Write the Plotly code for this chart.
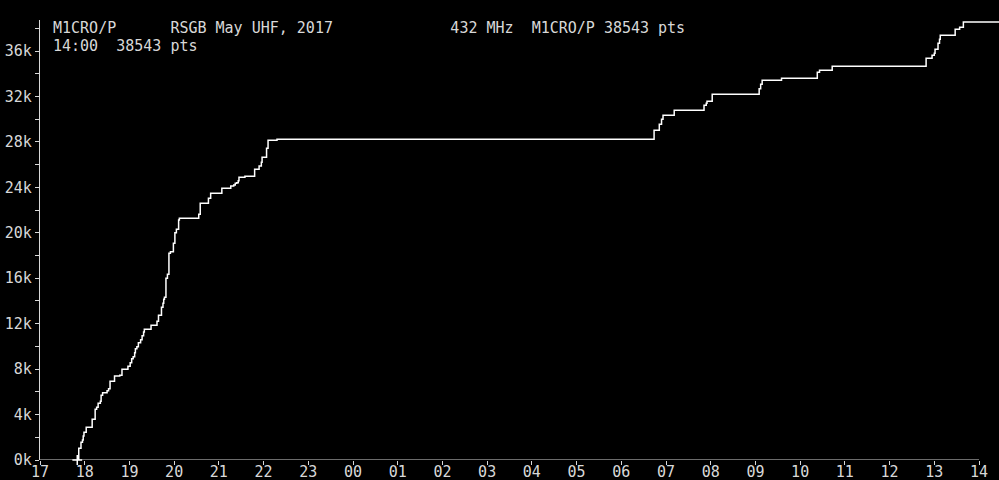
import plotly.graph_objects as go
from datetime import datetime, timedelta

# Cumulative score log (time of each step, score after the step)
times = ["17:50", "17:52", "17:55", "17:57", "17:58", "17:59", "18:02", "18:10", "18:14", "18:16",
         "18:18", "18:21", "18:22", "18:24", "18:30", "18:32", "18:34", "18:40", "18:47", "18:50",
         "18:58", "19:01", "19:03", "19:05", "19:07", "19:08", "19:10", "19:12", "19:15", "19:17",
         "19:19", "19:20", "19:29", "19:37", "19:39", "19:43", "19:45", "19:46", "19:47", "19:49",
         "19:51", "19:53", "19:55", "19:59", "20:01", "20:03", "20:06", "20:07", "20:33", "20:35",
         "20:46", "20:49", "21:04", "21:16", "21:20", "21:22", "21:24", "21:26", "21:27", "21:35",
         "21:48", "21:54", "21:57", "21:58", "22:04", "22:06", "22:18",
         "06:44", "06:51", "06:54", "06:56", "07:11", "07:51", "07:54", "07:55", "08:02",
         "09:05", "09:07", "09:09", "09:35", "10:23", "10:26", "10:43",
         "12:49", "12:57", "13:00", "13:01", "13:05", "13:07", "13:08", "13:28", "13:34", "13:39",
         "14:27"]
scores = [0, 1027, 1555, 1761, 2113, 2435, 2876, 3580, 4460, 4636,
          4988, 5164, 5693, 5927, 6103, 6279, 6925, 7395, 7453, 7981,
          8246, 8568, 8920, 9096, 9449, 9801, 9977, 10329, 10593, 10945,
          11268, 11503, 11855, 12207, 12735, 13439, 13791, 14143, 14320, 15993,
          16345, 18193, 18340, 19073, 20012, 20306, 21127, 21274, 21626, 22594,
          23035, 23475, 23915, 24120, 24208, 24355, 24413, 24590, 24883, 24971,
          25587, 25881, 26203, 26644, 27436, 28140, 28228,
          29021, 29549, 29989, 30341, 30781, 31221, 31397, 31573, 32190,
          32688, 33070, 33422, 33598, 34126, 34302, 34654,
          35359, 35623, 35799, 36151, 36679, 37031, 37383, 37911, 38087, 38543,
          38543]

hour_labels = ["17", "18", "19", "20", "21", "22", "23", "00", "01", "02", "03",
               "04", "05", "06", "07", "08", "09", "10", "11", "12", "13", "14"]
y_tick_vals = [0, 4000, 8000, 12000, 16000, 20000, 24000, 28000, 32000, 36000]
y_tick_text = ["0k", "4k", "8k", "12k", "16k", "20k", "24k", "28k", "32k", "36k"]

header1 = "M1CRO/P      RSGB May UHF, 2017             432 MHz  M1CRO/P 38543 pts"
header2 = "14:00  38543 pts"

day0 = datetime(2017, 5, 6)


def to_dt(hhmm):
    h, m = map(int, hhmm.split(":"))
    d = day0 if h >= 17 else day0 + timedelta(days=1)
    return d + timedelta(hours=h, minutes=m)


xs = [to_dt(t) for t in times]
start = day0 + timedelta(hours=17)
tick_dts = [start + timedelta(hours=i) for i in range(len(hour_labels))]
x_end = start + timedelta(hours=21.447)

FG = "#d8d8d8"
FONT = "DejaVu Sans Mono"

fig = go.Figure()
fig.add_trace(go.Scatter(x=xs, y=scores, mode="lines", line=dict(color="#ffffff", width=1.5, shape="hv"),
                         showlegend=False, hoverinfo="skip", cliponaxis=False))
fig.add_trace(go.Scatter(x=[xs[0]], y=[scores[0]], mode="markers",
                         marker=dict(symbol="cross-thin-open", size=7, color="#ffffff",
                                     line=dict(color="#ffffff", width=1.5)),
                         showlegend=False, hoverinfo="skip", cliponaxis=False))

fig.add_shape(type="line", xref="x", yref="y", x0=tick_dts[0], x1=tick_dts[-1], y0=0, y1=0,
              line=dict(color=FG, width=1.2), layer="below")

fig.update_layout(
    width=999, height=480,
    margin=dict(l=40, r=0, t=20, b=20, autoexpand=False),
    paper_bgcolor="#000000", plot_bgcolor="#000000",
    font=dict(family=FONT, size=15, color=FG),
    xaxis=dict(range=[start, x_end], showgrid=False, zeroline=False, showline=False, automargin=False,
               tickvals=tick_dts, ticktext=hour_labels, ticks="outside", ticklen=4,
               ticklabelstandoff=-6,
               tickcolor=FG, tickwidth=1, tickfont=dict(family=FONT, size=15, color=FG)),
    yaxis=dict(range=[0, 38730], showgrid=False, zeroline=False, showline=True, automargin=False,
               linecolor=FG, linewidth=1.2, tickvals=y_tick_vals, ticktext=y_tick_text,
               ticks="outside", ticklen=4, tickcolor=FG, tickwidth=1,
               tickfont=dict(family=FONT, size=15, color=FG),
               minor=dict(tickvals=[v + 2000 for v in y_tick_vals], ticks="outside",
                          ticklen=4, tickcolor=FG, tickwidth=1, showgrid=False)),
)

fig.add_annotation(text=header1.replace(" ", "\u00a0"), xref="paper", yref="paper",
                   x=11 / 959, y=(460 - 27.5) / 440, xanchor="left", yanchor="middle",
                   showarrow=False, font=dict(family=FONT, size=15, color=FG))
fig.add_annotation(text=header2.replace(" ", "\u00a0"), xref="paper", yref="paper",
                   x=11 / 959, y=(460 - 45.5) / 440, xanchor="left", yanchor="middle",
                   showarrow=False, font=dict(family=FONT, size=15, color=FG))

fig.write_html("out.html", config={"displayModeBar": False},
               post_script="document.body.style.margin='0';document.body.style.background='#000';"
                           "document.body.style.overflow='hidden';")
